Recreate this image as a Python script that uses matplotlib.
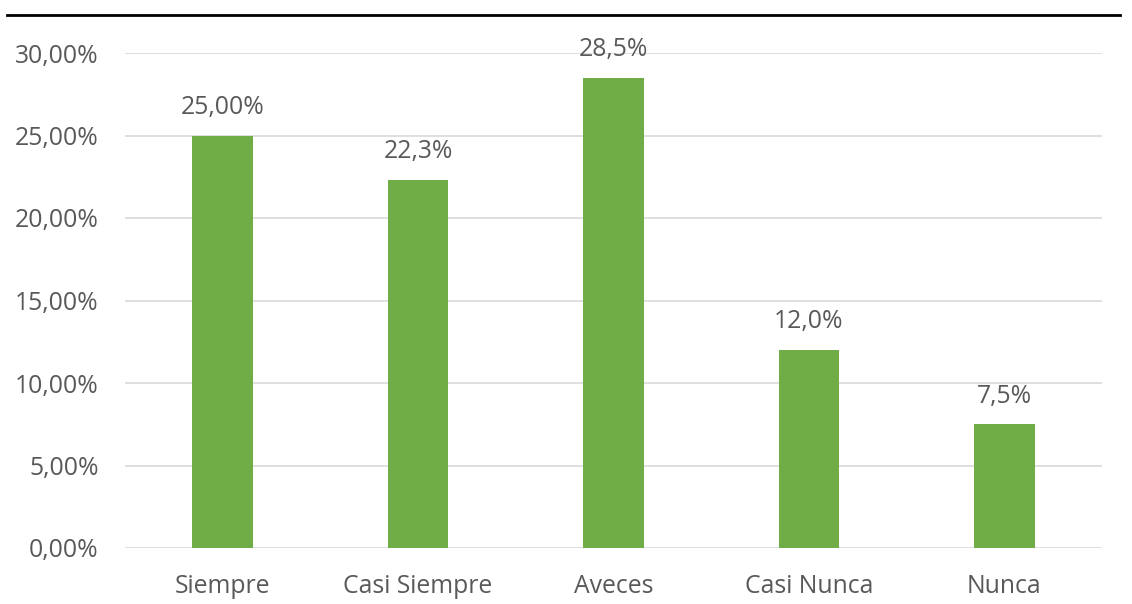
import matplotlib
matplotlib.use("Agg")
import matplotlib.pyplot as plt
from matplotlib.lines import Line2D

categories = ["Siempre", "Casi Siempre", "Aveces", "Casi Nunca", "Nunca"]
values = [25.0, 22.3, 28.5, 12.0, 7.5]
value_labels = ["25,00%", "22,3%", "28,5%", "12,0%", "7,5%"]
yticks = [0, 5, 10, 15, 20, 25, 30]
ytick_labels = ["0,00%", "5,00%", "10,00%", "15,00%", "20,00%", "25,00%", "30,00%"]

plt.rcParams['font.family'] = ['Open Sans', 'DejaVu Sans']
txt = "#595959"
fs = 17.8

fig = plt.figure(figsize=(11.32, 6.04), dpi=100)
ax = fig.add_axes([125/1132, 1-548/604, (1102-125)/1132, (548-53)/604])

x = range(len(categories))
ax.bar(x, values, width=0.31, color="#70AD47", zorder=3)
for xi, v, lab in zip(x, values, value_labels):
    ax.text(xi, v + 0.95, lab, ha="center", va="bottom", fontsize=fs, color=txt)

ax.set_xlim(-0.5, len(categories) - 0.5)
ax.set_ylim(0, 30)
ax.set_yticks(yticks)
ax.set_yticklabels(ytick_labels, fontsize=fs, color=txt)
ax.set_xticks(list(x))
ax.set_xticklabels(categories, fontsize=fs, color=txt)
ax.tick_params(axis="both", length=0)
ax.tick_params(axis="y", pad=19)
ax.tick_params(axis="x", pad=19)
ax.yaxis.grid(True, color="#D9D9D9", linewidth=1.2, zorder=0)
for s in ax.spines.values():
    s.set_visible(False)

fig.add_artist(Line2D([7/1132, 1120/1132], [1-14.5/604, 1-14.5/604], color="black", linewidth=2))

fig.savefig("out.png", dpi=100, facecolor="white")
